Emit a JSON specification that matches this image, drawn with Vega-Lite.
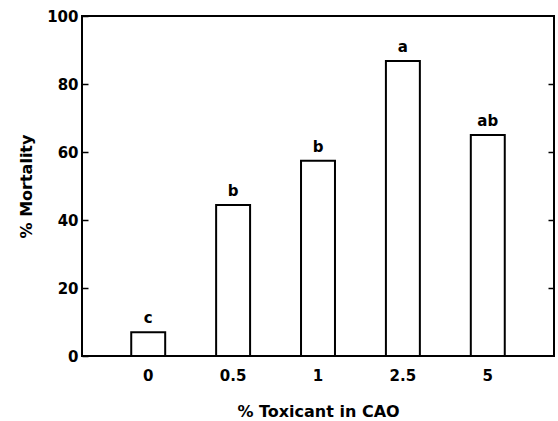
{
  "$schema": "https://vega.github.io/schema/vega-lite/v6.json",
  "autosize": "none",
  "padding": {"left": 82, "top": 16, "right": 4, "bottom": 65},
  "width": 472,
  "height": 340,
  "background": "white",
  "config": {
    "view": {"stroke": "black", "strokeWidth": 2},
    "font": "DejaVu Sans",
    "axis": {"grid": false, "domain": false, "labelFont": "DejaVu Sans", "titleFont": "DejaVu Sans", "labelFontWeight": "bold", "titleFontWeight": "bold", "labelColor": "black", "titleColor": "black", "tickColor": "black"}
  },
  "data": {
    "values": [
      {"toxicant": "0", "mortality": 7.0, "group": "c"},
      {"toxicant": "0.5", "mortality": 44.4, "group": "b"},
      {"toxicant": "1", "mortality": 57.4, "group": "b"},
      {"toxicant": "2.5", "mortality": 86.8, "group": "a"},
      {"toxicant": "5", "mortality": 65.0, "group": "ab"}
    ]
  },
  "encoding": {
    "x": {
      "field": "toxicant", "type": "ordinal", "sort": null,
      "scale": {"paddingInner": 0.6, "paddingOuter": 0.58},
      "axis": {"title": "% Toxicant in CAO", "labelAngle": 0, "ticks": false, "labelPadding": 12, "labelFontSize": 15, "titleFontSize": 16, "titlePadding": 20}
    },
    "y": {
      "field": "mortality", "type": "quantitative",
      "scale": {"domain": [0, 100], "nice": false}
    }
  },
  "layer": [
    {
      "mark": {"type": "bar", "fill": "white", "stroke": "black", "strokeWidth": 2},
      "encoding": {
        "y": {
          "field": "mortality", "type": "quantitative",
          "scale": {"domain": [0, 100], "nice": false},
          "axis": {"title": "% Mortality", "orient": "left", "values": [0, 20, 40, 60, 80, 100], "tickSize": -6, "tickWidth": 1.5, "labelPadding": 10, "labelFontSize": 15, "titleFontSize": 16, "titlePadding": 12}
        }
      }
    },
    {
      "mark": {"type": "text", "baseline": "bottom", "dy": -6, "fontSize": 15, "fontWeight": "bold", "font": "DejaVu Sans", "color": "black"},
      "encoding": {
        "text": {"field": "group"},
        "y": {
          "field": "mortality", "type": "quantitative",
          "scale": {"domain": [0, 100], "nice": false},
          "axis": {"title": null, "orient": "right", "values": [20, 40, 60, 80], "labels": false, "tickSize": -6, "tickWidth": 1.5}
        }
      }
    }
  ],
  "resolve": {"axis": {"y": "independent"}}
}
